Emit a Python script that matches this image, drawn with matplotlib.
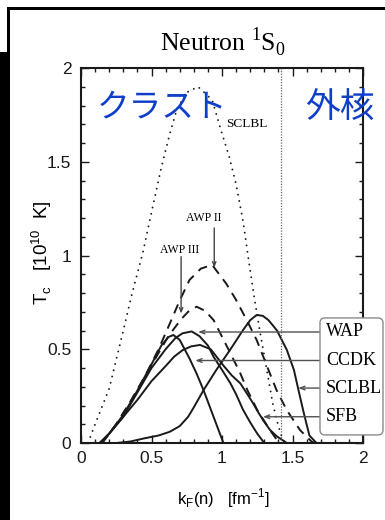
import matplotlib
matplotlib.use("Agg")
import matplotlib.pyplot as plt
from matplotlib.patches import Rectangle, FancyBboxPatch
from matplotlib.transforms import IdentityTransform
from matplotlib.ticker import MultipleLocator, FormatStrFormatter

W, H = 385, 520

# Neutron 1S0 gap critical temperature T_c [10^10 K] versus k_F(n) [fm^-1]
sclbl_dot_k = [0.05, 0.10, 0.20, 0.30, 0.36, 0.44, 0.50, 0.57, 0.63, 0.68, 0.75, 0.83,
               0.93, 1.00, 1.05, 1.10, 1.15, 1.19, 1.23, 1.27, 1.32, 1.36, 1.40, 1.43, 1.45]
sclbl_dot_t = [0.00, 0.10, 0.29, 0.60, 0.79, 1.02, 1.23, 1.47, 1.65, 1.78, 1.87, 1.90,
               1.83, 1.65, 1.53, 1.38, 1.18, 0.97, 0.77, 0.59, 0.38, 0.21, 0.09, 0.02, 0.00]

awp2_k = [0.15, 0.25, 0.35, 0.45, 0.55, 0.62, 0.70, 0.77, 0.85, 0.93, 1.03, 1.10, 1.175,
          1.246, 1.293, 1.34, 1.388, 1.459, 1.553, 1.636, 1.66]
awp2_t = [0.00, 0.10, 0.22, 0.35, 0.50, 0.62, 0.76, 0.87, 0.93, 0.95, 0.85, 0.763, 0.656,
          0.549, 0.46, 0.37, 0.28, 0.176, 0.069, 0.007, 0.00]

awp3_k = [0.15, 0.25, 0.35, 0.45, 0.55, 0.62, 0.66, 0.71, 0.76, 0.82, 0.88, 0.94, 1.00,
          1.06, 1.13, 1.18, 1.25, 1.34, 1.39, 1.42]
awp3_t = [0.00, 0.10, 0.22, 0.35, 0.48, 0.57, 0.61, 0.66, 0.70, 0.727, 0.705, 0.656, 0.567,
          0.478, 0.371, 0.282, 0.176, 0.069, 0.016, 0.00]

ccdk_k = [0.14, 0.20, 0.30, 0.40, 0.50, 0.57, 0.62, 0.655, 0.70, 0.77, 0.82, 0.87, 0.94, 0.98, 1.01]
ccdk_t = [0.00, 0.05, 0.15, 0.28, 0.42, 0.52, 0.565, 0.576, 0.55, 0.45, 0.37, 0.28, 0.14, 0.06, 0.00]

wap_k = [0.14, 0.20, 0.30, 0.40, 0.50, 0.60, 0.67, 0.72, 0.785, 0.84, 0.90, 0.94, 1.00,
         1.06, 1.10, 1.15, 1.20, 1.25, 1.30]
wap_t = [0.00, 0.05, 0.14, 0.27, 0.40, 0.50, 0.56, 0.585, 0.595, 0.57, 0.52, 0.46, 0.39,
         0.318, 0.26, 0.176, 0.11, 0.05, 0.00]

sfb_k = [0.13, 0.20, 0.30, 0.40, 0.50, 0.60, 0.66, 0.72, 0.78, 0.844, 0.92, 1.01, 1.07,
         1.13, 1.18, 1.222, 1.26, 1.293, 1.34, 1.388, 1.46]
sfb_t = [0.00, 0.05, 0.14, 0.23, 0.33, 0.41, 0.46, 0.495, 0.515, 0.523, 0.50, 0.413, 0.36,
         0.318, 0.26, 0.21, 0.16, 0.12, 0.07, 0.036, 0.00]

sclbl_k = [0.25, 0.35, 0.45, 0.55, 0.63, 0.70, 0.76, 0.80, 0.87, 0.96, 1.06, 1.15, 1.20,
           1.246, 1.29, 1.33, 1.39, 1.46, 1.51, 1.54, 1.58, 1.62, 1.67]
sclbl_t = [0.00, 0.008, 0.025, 0.04, 0.06, 0.09, 0.14, 0.19, 0.283, 0.39, 0.50, 0.603, 0.655,
           0.683, 0.678, 0.655, 0.60, 0.496, 0.39, 0.29, 0.16, 0.04, 0.00]

legend_names = ["WAP", "CCDK", "SCLBL", "SFB"]
legend_tip_k = [0.83, 0.81, 1.54, 1.29]
legend_tip_t = [0.592, 0.44, 0.293, 0.14]

crust_edge_k = 1.42
region_names = ["クラスト", "外核"]

x_ticks = [0, 0.5, 1, 1.5, 2]
y_ticks = [0, 0.5, 1, 1.5, 2]

ink = "#1a1a1a"
blue = "#0F3FC8"

fig = plt.figure(figsize=(W / 100, H / 100), dpi=100)
fig.patch.set_facecolor("white")

ax = fig.add_axes([81 / W, 1 - 443 / H, 282 / W, 375 / H])
ax.set_xlim(0, 2)
ax.set_ylim(0, 2)

ax.plot(sclbl_dot_k, sclbl_dot_t, color=ink, lw=1.4,
        linestyle=(0, (0.01, 3.3)), dash_capstyle="round")
for k, t in [(awp2_k, awp2_t), (awp3_k, awp3_t)]:
    ax.plot(k, t, color=ink, lw=1.4, linestyle=(0, (5.0, 3.5)))
for k, t in [(ccdk_k, ccdk_t), (wap_k, wap_t), (sfb_k, sfb_t), (sclbl_k, sclbl_t)]:
    ax.plot(k, t, color=ink, lw=1.4, solid_joinstyle="round")

ax.axvline(crust_edge_k, color="#666666", lw=0.9, linestyle=(0, (1, 1.2)))

# curve labels with pointers
serif = "Liberation Serif"
ax.text(1.177, 1.70, "SCLBL", family=serif, fontsize=9.5, ha="center", va="center")
ax.text(0.872, 1.20, "AWP II", family=serif, fontsize=8.5, ha="center", va="center")
ax.text(0.70, 1.03, "AWP III", family=serif, fontsize=8.5, ha="center", va="center")
small_arrow = dict(arrowstyle="->,head_length=0.3,head_width=0.12", color="#444444",
                   lw=1.0, shrinkA=0, shrinkB=0)
ax.annotate("", xy=(0.945, 0.935), xytext=(0.945, 1.147), arrowprops=small_arrow)
ax.annotate("", xy=(0.71, 0.69), xytext=(0.71, 0.994), arrowprops=small_arrow)

# region names
ax.text(0.578, 1.787, region_names[0], family=["Noto Sans CJK JP"], fontsize=23.5,
        color=blue, ha="center", va="center", zorder=6)
ax.text(1.833, 1.787, region_names[1], family=["Noto Sans CJK JP"], fontsize=25,
        color=blue, ha="center", va="center", zorder=6, clip_on=False)

# axes styling
ax.set_xticks(x_ticks)
ax.set_yticks(y_ticks)
ax.xaxis.set_minor_locator(MultipleLocator(0.1))
ax.yaxis.set_minor_locator(MultipleLocator(0.1))
ax.xaxis.set_major_formatter(FormatStrFormatter("%g"))
ax.yaxis.set_major_formatter(FormatStrFormatter("%g"))
ax.tick_params(which="both", direction="in", top=True, right=True, width=1.0, colors=ink)
ax.tick_params(which="major", length=5.5)
ax.tick_params(which="minor", length=2.8)
ax.tick_params(axis="x", which="major", pad=6)
ax.tick_params(axis="y", which="major", pad=7)
for lab in ax.get_xticklabels() + ax.get_yticklabels():
    lab.set_family("Liberation Sans")
    lab.set_fontsize(12.5)
for sp in ax.spines.values():
    sp.set_linewidth(1.5)
    sp.set_color(ink)

# legend box with pointers to the solid curves
box_left_k = 1.695
bx0, by0 = ax.transData.transform((box_left_k, 0.043))
bx1, by1 = 383, ax.transData.transform((0, 0.667))[1]
fig.add_artist(FancyBboxPatch((bx0, by0), bx1 - bx0, by1 - by0,
                              boxstyle="round,pad=0,rounding_size=5",
                              transform=IdentityTransform(), facecolor="white",
                              edgecolor="#8a8a8a", lw=1.0, zorder=3))
for name, tk, tt in zip(legend_names, legend_tip_k, legend_tip_t):
    ax.annotate("", xy=(tk, tt), xytext=(box_left_k, tt),
                arrowprops=dict(arrowstyle="->,head_length=0.35,head_width=0.13",
                                color="#505050", lw=1.0, shrinkA=0, shrinkB=0),
                annotation_clip=False)
    px, py = ax.transData.transform((box_left_k, tt))
    fig.text((px + 6) / W, py / H, name, family=serif, fontsize=13,
             ha="left", va="center", zorder=4)

# titles
fig.text(222.5 / W, 1 - 42 / H, r"Neutron $^{\mathregular{1}}$S$_{\mathregular{0}}$",
         family=serif, fontsize=18.5, ha="center", va="center")
fig.text(42 / W, 1 - 253 / H, r"T$_{\mathregular{c}}$   [10$^{\mathregular{10}}$  K]",
         family="Liberation Sans", fontsize=13.5, rotation=90, ha="center", va="center")
fig.text(223 / W, 1 - 498 / H, r"k$_{\mathregular{F}}$(n)   [fm$^{\mathregular{-1}}$]",
         family="Liberation Sans", fontsize=12, ha="center", va="center")

# page frame
idt = IdentityTransform()
fig.add_artist(Rectangle((7, H - 9.5), W - 7, 2.5, transform=idt, color="black", lw=0))
fig.add_artist(Rectangle((7, H - 52), 3, 45, transform=idt, color="black", lw=0))
fig.add_artist(Rectangle((0, 0), 10, H - 52, transform=idt, color="black", lw=0))

fig.savefig("out.png", dpi=100)
